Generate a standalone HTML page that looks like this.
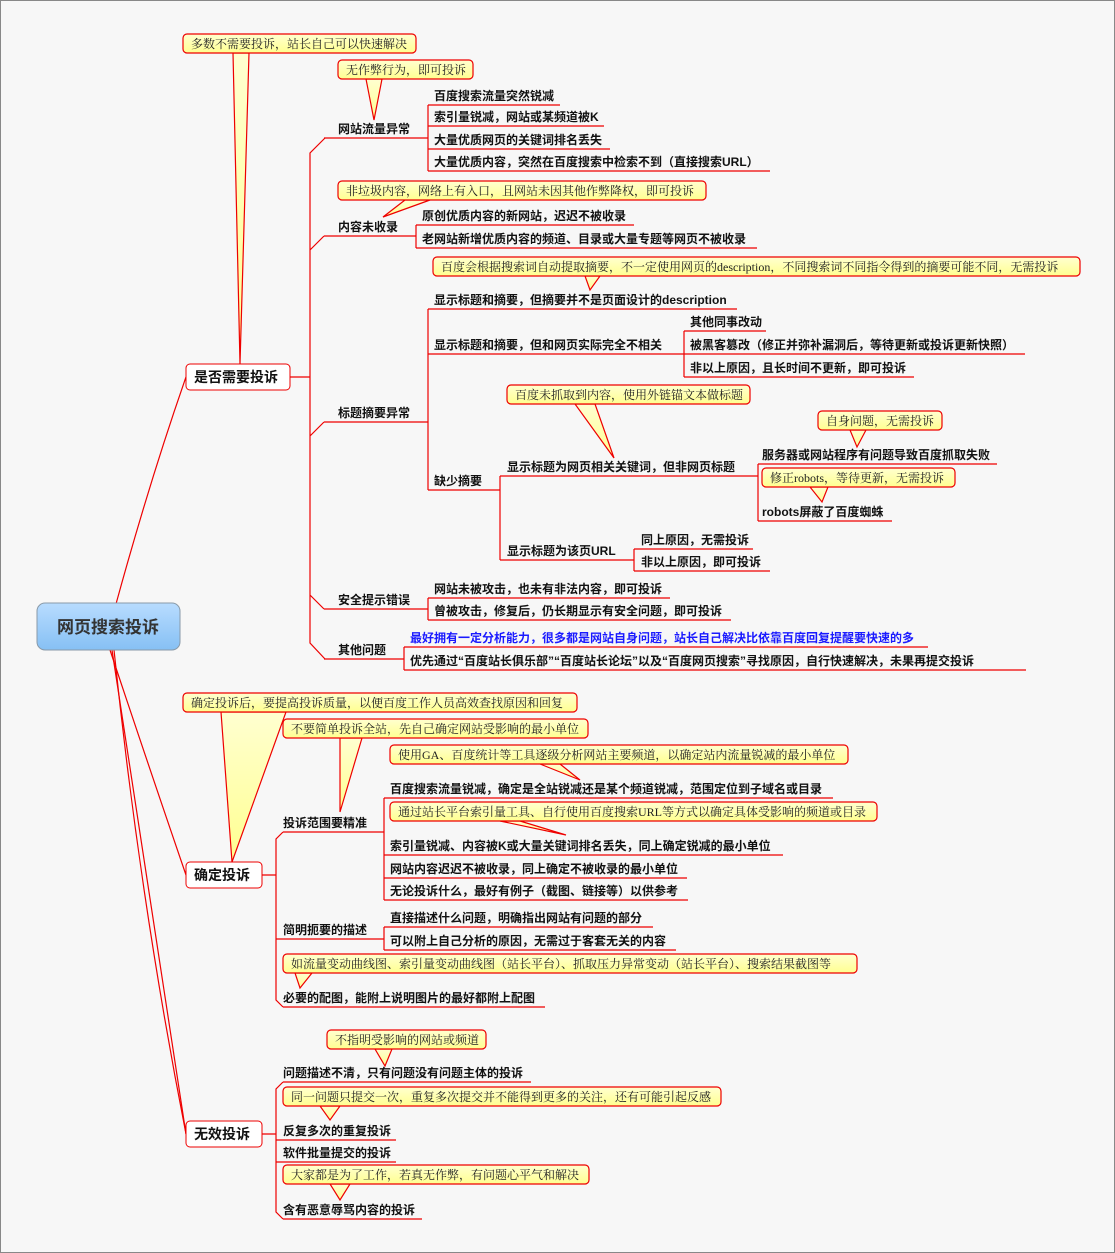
<!DOCTYPE html>
<html><head><meta charset="utf-8"><style>
html,body{margin:0;padding:0;background:#f7f7f7;}
svg{display:block}
.t{font-family:"Liberation Sans","Noto Sans CJK SC",sans-serif;font-size:12px;font-weight:bold;fill:#111}
.c{font-family:"Liberation Serif","Noto Serif CJK SC",serif;font-size:12px;fill:#222}
.m{font-family:"Liberation Sans","Noto Sans CJK SC",sans-serif;font-size:14px;font-weight:bold;fill:#111}
.l{stroke:#e00;stroke-width:1.2;fill:none}
.cb{fill:url(#yg);stroke:#e00;stroke-width:1.2}
</style></head><body>
<svg width="1115" height="1253" viewBox="0 0 1115 1253" xmlns="http://www.w3.org/2000/svg">
<defs>
<linearGradient id="yg" x1="0" y1="0" x2="0" y2="1"><stop offset="0" stop-color="#ffffd0"/><stop offset="1" stop-color="#ffff90"/></linearGradient>
<linearGradient id="bg" x1="0" y1="0" x2="0" y2="1"><stop offset="0" stop-color="#b8dcff"/><stop offset="1" stop-color="#86c0f4"/></linearGradient>
</defs>
<rect x="0.5" y="0.5" width="1114" height="1252" fill="#f7f7f7" stroke="#888"/>

<!-- root connectors -->
<path class="l" d="M116 604 Q150 480 186 377"/>
<path class="l" d="M110 650 Q150 770 186 875"/>
<path class="l" d="M112 650 Q150 900 186 1134"/>
<path class="l" d="M114 650 Q140 900 186 1134"/>

<!-- 是否 trunk -->
<path class="l" d="M290 377 H310 M325 138 L310 153 V643 L325 659 M310 250 L324 236 M310 436 L324 422 M310 595 L324 609"/>
<path class="l" d="M324 138 H428 M324 236 H416 M324 422 H428 M324 609 H428 M324 659 H404"/>
<!-- 网站流量 -->
<path class="l" d="M428 105 V171 M428 105 H560 M428 126 H604 M428 149 H610 M428 171 H770"/>
<!-- 内容未收录 -->
<path class="l" d="M416 225 V248 M416 225 H634 M416 248 H757"/>
<!-- 标题摘要 -->
<path class="l" d="M428 309 V490 M428 309 H737 M428 354 H684 M428 490 H500"/>
<path class="l" d="M684 331 V377 M684 331 H766 M684 354 H1025 M684 377 H914"/>
<path class="l" d="M500 476 V560 M500 476 H758 M500 560 H634"/>
<path class="l" d="M758 464 V521 M758 464 H997 M758 521 H892"/>
<path class="l" d="M634 549 V571 M634 549 H753 M634 571 H770"/>
<!-- 安全 -->
<path class="l" d="M428 598 V620 M428 598 H670 M428 620 H731"/>
<!-- 其他 -->
<path class="l" d="M404 647 V670 M404 647 H928 M404 670 H1026"/>

<!-- 确定 trunk -->
<path class="l" d="M262 875 H276 M283 832 L276 839 V1000 L283 1007 M276 939 H283"/>
<path class="l" d="M283 832 H384 M283 939 H384 M283 1007 H545"/>
<path class="l" d="M384 798 V900 M384 798 H833 M384 855 H783 M384 878 H687 M384 900 H688"/>
<path class="l" d="M384 927 V950 M384 927 H653 M384 950 H676"/>

<!-- 无效 trunk -->
<path class="l" d="M262 1134 H276 M283 1082 L276 1089 V1212 L283 1219 M276 1140 H283 M276 1162 H283"/>
<path class="l" d="M283 1082 H531 M283 1140 H396 M283 1162 H396 M283 1219 H422"/>

<!-- callouts: tail then box -->
<g>
<polygon class="cb" points="233,53 249,53 240,364"/>
<rect class="cb" x="183" y="34" width="233" height="19" rx="4"/>
<polygon class="cb" points="366,79 382,79 374,120"/>
<rect class="cb" x="338" y="60" width="135" height="19" rx="4"/>
<polygon class="cb" points="405,200 430,200 383,217"/>
<rect class="cb" x="338" y="181" width="368" height="19" rx="4"/>
<polygon class="cb" points="585,276 600,276 590,290"/>
<rect class="cb" x="433" y="257" width="647" height="19" rx="4"/>
<polygon class="cb" points="575,404 595,404 614,458"/>
<rect class="cb" x="507" y="385" width="243" height="19" rx="4"/>
<polygon class="cb" points="850,430 866,430 857,447"/>
<rect class="cb" x="818" y="411" width="124" height="19" rx="4"/>
<polygon class="cb" points="810,487 828,487 822,502"/>
<rect class="cb" x="762" y="468" width="193" height="19" rx="4"/>
<polygon class="cb" points="221,712 286,712 232,862"/>
<rect class="cb" x="183" y="693" width="394" height="19" rx="4"/>
<polygon class="cb" points="340,738 362,738 340,812"/>
<rect class="cb" x="283" y="719" width="305" height="19" rx="4"/>
<polygon class="cb" points="540,764 560,764 580,780"/>
<rect class="cb" x="390" y="745" width="458" height="19" rx="4"/>
<polygon class="cb" points="500,821 520,821 566,835"/>
<rect class="cb" x="390" y="802" width="487" height="19" rx="4"/>
<polygon class="cb" points="295,973 312,973 300,988"/>
<rect class="cb" x="283" y="954" width="574" height="19" rx="4"/>
<polygon class="cb" points="375,1049 392,1049 385,1066"/>
<rect class="cb" x="327" y="1030" width="159" height="19" rx="4"/>
<polygon class="cb" points="320,1106 340,1106 330,1120"/>
<rect class="cb" x="283" y="1087" width="438" height="19" rx="4"/>
<polygon class="cb" points="330,1184 350,1184 340,1200"/>
<rect class="cb" x="283" y="1165" width="306" height="19" rx="4"/>
</g>
<g class="c">
<text x="191" y="48">多数不需要投诉，站长自己可以快速解决</text>
<text x="346" y="74">无作弊行为，即可投诉</text>
<text x="346" y="195">非垃圾内容，网络上有入口，且网站未因其他作弊降权，即可投诉</text>
<text x="441" y="271">百度会根据搜索词自动提取摘要，不一定使用网页的description，不同搜索词不同指令得到的摘要可能不同，无需投诉</text>
<text x="515" y="399">百度未抓取到内容，使用外链锚文本做标题</text>
<text x="826" y="425">自身问题，无需投诉</text>
<text x="770" y="482">修正robots，等待更新，无需投诉</text>
<text x="191" y="707">确定投诉后，要提高投诉质量，以便百度工作人员高效查找原因和回复</text>
<text x="291" y="733">不要简单投诉全站，先自己确定网站受影响的最小单位</text>
<text x="398" y="759">使用GA、百度统计等工具逐级分析网站主要频道，以确定站内流量锐减的最小单位</text>
<text x="398" y="816">通过站长平台索引量工具、自行使用百度搜索URL等方式以确定具体受影响的频道或目录</text>
<text x="291" y="968">如流量变动曲线图、索引量变动曲线图（站长平台）、抓取压力异常变动（站长平台）、搜索结果截图等</text>
<text x="335" y="1044">不指明受影响的网站或频道</text>
<text x="291" y="1101">同一问题只提交一次，重复多次提交并不能得到更多的关注，还有可能引起反感</text>
<text x="291" y="1179">大家都是为了工作，若真无作弊，有问题心平气和解决</text>
</g>

<!-- root & main boxes -->
<rect x="37" y="603" width="143" height="47" rx="8" fill="url(#bg)" stroke="#8a9aa8"/>
<text x="108" y="633" text-anchor="middle" style="font-family:'Liberation Sans','Noto Sans CJK SC',sans-serif;font-size:17px;font-weight:bold;fill:#333">网页搜索投诉</text>
<rect x="186" y="364" width="104" height="26" rx="4" fill="#fff" stroke="#e00"/>
<text class="m" x="194" y="382">是否需要投诉</text>
<rect x="186" y="862" width="76" height="26" rx="4" fill="#fff" stroke="#e00"/>
<text class="m" x="194" y="880">确定投诉</text>
<rect x="186" y="1121" width="76" height="26" rx="4" fill="#fff" stroke="#e00"/>
<text class="m" x="194" y="1139">无效投诉</text>

<g class="t">
<text x="338" y="133">网站流量异常</text>
<text x="338" y="231">内容未收录</text>
<text x="338" y="417">标题摘要异常</text>
<text x="338" y="604">安全提示错误</text>
<text x="338" y="654">其他问题</text>
<text x="434" y="100">百度搜索流量突然锐减</text>
<text x="434" y="121">索引量锐减，网站或某频道被K</text>
<text x="434" y="144">大量优质网页的关键词排名丢失</text>
<text x="434" y="166">大量优质内容，突然在百度搜索中检索不到（直接搜索URL）</text>
<text x="422" y="220">原创优质内容的新网站，迟迟不被收录</text>
<text x="422" y="243">老网站新增优质内容的频道、目录或大量专题等网页不被收录</text>
<text x="434" y="304">显示标题和摘要，但摘要并不是页面设计的description</text>
<text x="434" y="349">显示标题和摘要，但和网页实际完全不相关</text>
<text x="690" y="326">其他同事改动</text>
<text x="690" y="349">被黑客篡改（修正并弥补漏洞后，等待更新或投诉更新快照）</text>
<text x="690" y="372">非以上原因，且长时间不更新，即可投诉</text>
<text x="434" y="485">缺少摘要</text>
<text x="507" y="471">显示标题为网页相关关键词，但非网页标题</text>
<text x="507" y="555">显示标题为该页URL</text>
<text x="762" y="459">服务器或网站程序有问题导致百度抓取失败</text>
<text x="762" y="516">robots屏蔽了百度蜘蛛</text>
<text x="641" y="544">同上原因，无需投诉</text>
<text x="641" y="566">非以上原因，即可投诉</text>
<text x="434" y="593">网站未被攻击，也未有非法内容，即可投诉</text>
<text x="434" y="615">曾被攻击，修复后，仍长期显示有安全问题，即可投诉</text>
<text x="410" y="642" style="fill:#1a1aff">最好拥有一定分析能力，很多都是网站自身问题，站长自己解决比依靠百度回复提醒要快速的多</text>
<text x="410" y="665">优先通过“百度站长俱乐部”“百度站长论坛”以及“百度网页搜索”寻找原因，自行快速解决，未果再提交投诉</text>
<text x="283" y="827">投诉范围要精准</text>
<text x="283" y="934">简明扼要的描述</text>
<text x="283" y="1002">必要的配图，能附上说明图片的最好都附上配图</text>
<text x="390" y="793">百度搜索流量锐减，确定是全站锐减还是某个频道锐减，范围定位到子域名或目录</text>
<text x="390" y="850">索引量锐减、内容被K或大量关键词排名丢失，同上确定锐减的最小单位</text>
<text x="390" y="873">网站内容迟迟不被收录，同上确定不被收录的最小单位</text>
<text x="390" y="895">无论投诉什么，最好有例子（截图、链接等）以供参考</text>
<text x="390" y="922">直接描述什么问题，明确指出网站有问题的部分</text>
<text x="390" y="945">可以附上自己分析的原因，无需过于客套无关的内容</text>
<text x="283" y="1077">问题描述不清，只有问题没有问题主体的投诉</text>
<text x="283" y="1135">反复多次的重复投诉</text>
<text x="283" y="1157">软件批量提交的投诉</text>
<text x="283" y="1214">含有恶意辱骂内容的投诉</text>
</g>
</svg>
</body></html>
